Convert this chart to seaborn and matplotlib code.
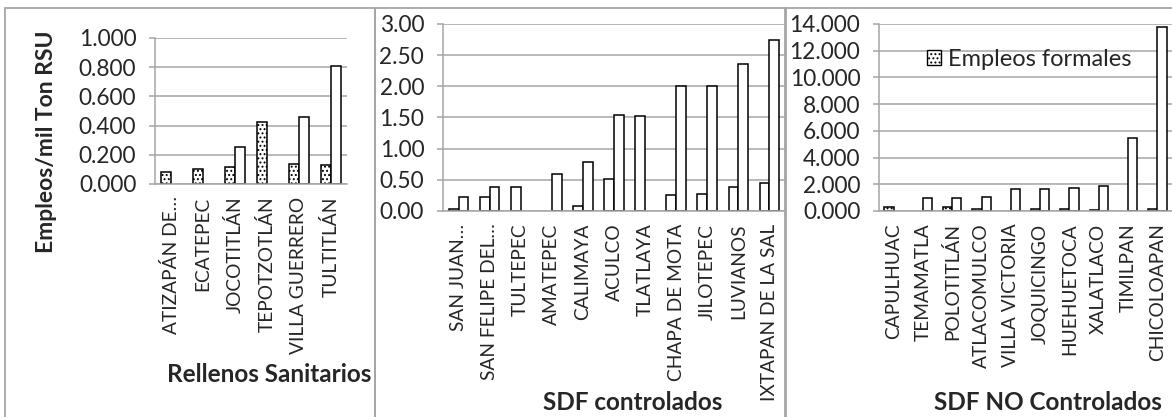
import numpy as np
import pandas as pd
import seaborn as sns
import matplotlib
matplotlib.use("Agg")
import matplotlib.pyplot as plt
from matplotlib.patches import Rectangle, Patch
from matplotlib.ticker import FormatStrFormatter

# --- data (Empleos / mil Ton RSU) ---
rs_municipios = ["ATIZAPÁN DE…", "ECATEPEC", "JOCOTITLÁN", "TEPOTZOTLÁN",
                 "VILLA GUERRERO", "TULTITLÁN"]
rs_formales = [0.080, 0.100, 0.117, 0.425, 0.137, 0.128]
rs_informales = [None, None, 0.256, None, 0.457, 0.806]

sc_municipios = ["SAN JUAN…", "SAN FELIPE DEL…", "TULTEPEC", "AMATEPEC", "CALIMAYA",
                 "ACULCO", "TLATLAYA", "CHAPA DE MOTA", "JILOTEPEC", "LUVIANOS",
                 "IXTAPAN DE LA SAL"]
sc_formales = [0.03, 0.22, 0.38, None, 0.075, 0.51, 1.53, 0.25, 0.275, 0.39, 0.45]
sc_informales = [0.22, 0.38, None, 0.59, 0.79, 1.54, None, 2.00, 2.01, 2.36, 2.75]

snc_municipios = ["CAPULHUAC", "TEMAMATLA", "POLOTITLÁN", "ATLACOMULCO", "VILLA VICTORIA",
                  "JOQUICINGO", "HUEHUETOCA", "XALATLACO", "TIMILPAN", "CHICOLOAPAN"]
snc_formales = [0.27, None, 0.28, 0.18, None, 0.15, 0.15, 0.08, None, 0.18]
snc_informales = [None, 0.95, 0.98, 1.08, 1.63, 1.68, 1.75, 1.88, 5.49, 13.76]

series = ["Empleos formales", "Empleos informales"]

W, H = 1172, 417
GRAY = "#A6A6A6"

sns.set_style("white")
plt.rcParams["font.family"] = ["Lato", "DejaVu Sans"]
plt.rcParams["hatch.linewidth"] = 0.9


def px_rect(left, right, top, bottom):
    return [left / W, 1 - bottom / H, (right - left) / W, (bottom - top) / H]


def panel(ax, municipios, formales, informales, ymax, step, fmt, hatch):
    df = pd.DataFrame({
        "municipio": municipios * 2,
        "serie": [series[0]] * len(municipios) + [series[1]] * len(municipios),
        "valor": list(formales) + list(informales),
    }).dropna()
    sns.barplot(data=df, x="municipio", y="valor", hue="serie",
                order=municipios, hue_order=series,
                palette=["white", "white"], edgecolor="black", linewidth=1.1,
                width=0.63, gap=0, errorbar=None, legend=False, ax=ax)
    if hatch:
        for bar in ax.containers[0]:
            bar.set_hatch(hatch)
    n = len(municipios)
    ax.set_xlim(-0.5, n - 0.5)
    ax.set_ylim(0, ymax)
    ax.set_yticks(np.arange(0, ymax + step / 2, step))
    ax.yaxis.set_major_formatter(FormatStrFormatter(fmt))
    ax.yaxis.grid(True, color=GRAY, lw=1.1)
    ax.set_axisbelow(True)
    ax.set_xticks(range(n))
    ax.set_xticklabels(municipios, rotation=90, fontsize=13.8)
    ax.set_xticks(np.arange(-0.5, n, 1), minor=True)
    ax.tick_params(axis="x", which="major", length=0, pad=9)
    ax.tick_params(axis="x", which="minor", length=4, color=GRAY, width=1.1, direction="out")
    ax.tick_params(axis="y", length=4.5, color=GRAY, width=1.1, direction="out",
                   pad=9, labelsize=16.3, left=True)
    for s in ["top", "right"]:
        ax.spines[s].set_visible(False)
    for s in ["left", "bottom"]:
        ax.spines[s].set_color(GRAY)
        ax.spines[s].set_linewidth(1.1)
    ax.set_xlabel("")
    ax.set_ylabel("")


fig = plt.figure(figsize=(W / 100, H / 100), dpi=100)
fig.patch.set_facecolor("white")

# panel frames
for l, r in [(5, 374.5), (374.5, 785.5), (785.5, 1185)]:
    fig.add_artist(Rectangle((l / W, -0.05), (r - l) / W, 1.05 - 8 / H,
                             transform=fig.transFigure, fill=False,
                             edgecolor=GRAY, lw=1.3))

ax1 = fig.add_axes(px_rect(155, 347, 38, 184))
ax2 = fig.add_axes(px_rect(443, 785, 24, 211))
ax3 = fig.add_axes(px_rect(879, 1172, 24, 211))

panel(ax1, rs_municipios, rs_formales, rs_informales, 1.0, 0.2, "%.3f", "....")
panel(ax2, sc_municipios, sc_formales, sc_informales, 3.0, 0.5, "%.2f", None)
panel(ax3, snc_municipios, snc_formales, snc_informales, 14.0, 2.0, "%.3f", "....")

ax3.legend(handles=[Patch(facecolor="white", edgecolor="black", hatch="....",
                          label=series[0])],
           loc="center left", bbox_to_anchor=(0.13, 0.81), frameon=False,
           fontsize=17, handlelength=0.6, handleheight=0.6, handletextpad=0.3,
           borderaxespad=0)

fig.text(47 / W, 1 - 142 / H, "Empleos/mil Ton RSU", rotation=90, fontsize=16.5,
         fontweight="bold", ha="center", va="center")
fig.text(269 / W, 1 - 374 / H, "Rellenos Sanitarios", fontsize=17.5,
         fontweight="bold", ha="center", va="center")
fig.text(633 / W, 1 - 403 / H, "SDF controlados", fontsize=17.5,
         fontweight="bold", ha="center", va="center")
fig.text(1048 / W, 1 - 403 / H, "SDF NO Controlados", fontsize=17.5,
         fontweight="bold", ha="center", va="center")

fig.savefig("out.png", dpi=100, facecolor="white")
